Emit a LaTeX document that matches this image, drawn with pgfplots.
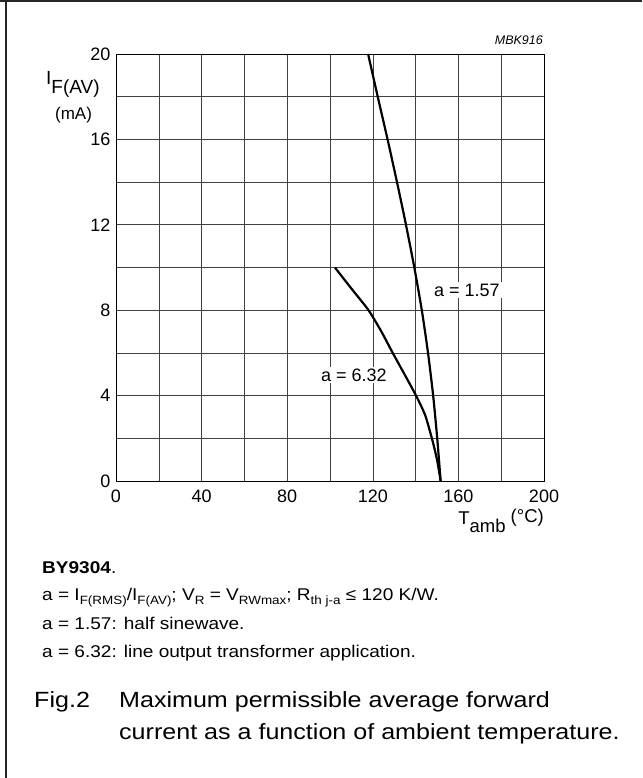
\documentclass[border=0pt]{standalone}
\usepackage{pgfplots}
\pgfplotsset{compat=1.18}
\usepackage{fontspec}
\setmainfont{Liberation Sans}
\newfontfamily\widefont[FakeStretch=1.12]{Liberation Sans}
\newfontfamily\capfont[FakeStretch=1.14]{Liberation Sans}

\newcommand{\fs}[1]{\fontsize{#1}{#1}\selectfont}

\begin{document}
\begin{tikzpicture}[x=1pt,y=1pt]
\useasboundingbox (0pt,0pt) rectangle (642pt,778pt);
% frame of the figure (only top and left are visible)
\draw[line width=2.2pt, black!85] (0pt,777pt) -- (642pt,777pt);
\draw[line width=2pt, black!85] (5.5pt,0pt) -- (5.5pt,778pt);

\begin{axis}[
    at={(116pt,297pt)}, anchor=south west,
    scale only axis, width=428pt, height=427pt,
    xmin=0, xmax=200, ymin=0, ymax=20,
    xtick={0,40,...,200}, minor xtick={20,60,...,180},
    ytick={0,4,...,20}, minor ytick={2,6,...,18},
    grid=both,
    major grid style={black!75, line width=0.6pt},
    minor grid style={black!75, line width=0.6pt},
    axis line style={black, line width=0.8pt},
    major tick length=0pt, minor tick length=0pt,
    tick label style={font=\fs{18}},
    /pgf/number format/assume math mode=true,
    xticklabel style={yshift=-5pt},
    yticklabel style={xshift=-2pt},
    clip=false,
]
% a = 1.57
\addplot[black, line width=2.2pt, smooth, tension=0.4] coordinates {
(117.8,20) (122.3,18) (126.9,16) (131.3,14) (135.5,12) (139.4,10)
(142.9,8) (145.8,6) (148.2,4) (150.1,2) (151.7,0)
};
% a = 6.32
\addplot[black, line width=2.2pt, smooth, tension=0.4] coordinates {
(102.3,10) (110.1,9) (118.0,8) (124.0,7) (129.3,6) (134.8,5) (140.2,4)
(144.4,3.1) (147.6,2) (150.0,1) (151.7,0)
};
\node[fill=white, inner sep=2pt, font=\fs{18}] at (axis cs:164,8.95) {a = 1.57};
\node[fill=white, inner sep=2pt, font=\fs{18}] at (axis cs:111.2,4.97) {a = 6.32};
\end{axis}

% labels around the axis
\node[anchor=base east, font=\fs{12.5}\itshape, inner sep=0pt] at (543pt,733pt) {MBK916};
\node[anchor=base west, font=\fs{19}, inner sep=0pt] at (46pt,693pt)
  {I\raisebox{-9pt}{F(AV)}};
\node[anchor=base, font=\fs{17}, inner sep=0pt] at (73.5pt,658pt) {(mA)};
\node[anchor=base east, font=\fs{18.5}, inner sep=0pt] at (544pt,253pt)
  {T\raisebox{-8pt}{amb} \raisebox{2pt}{(°C)}};

% notes
\begin{scope}[every node/.style={anchor=base west, inner sep=0pt, font=\widefont\fs{17}}]
\node at (42pt,204pt) {\textbf{BY9304}.};
\node at (42pt,177pt)
  {a = I\raisebox{-3.5pt}{\fs{12}F(RMS)}/I\raisebox{-3.5pt}{\fs{12}F(AV)}; V\raisebox{-3.5pt}{\fs{12}R} = V\raisebox{-3.5pt}{\fs{12}RWmax}; R\raisebox{-3.5pt}{\fs{12}th j-a} ≤ 120 K/W.};
\node at (42pt,148pt) {a = 1.57: half sinewave.};
\node at (42pt,120pt) {a = 6.32: line output transformer application.};
\end{scope}

% caption
\begin{scope}[every node/.style={anchor=base west, inner sep=0pt, font=\capfont\fs{22}}]
\node at (34pt,70pt) {Fig.2};
\node at (119pt,70pt) {Maximum permissible average forward};
\node at (119pt,38pt) {current as a function of ambient temperature.};
\end{scope}
\end{tikzpicture}
\end{document}
